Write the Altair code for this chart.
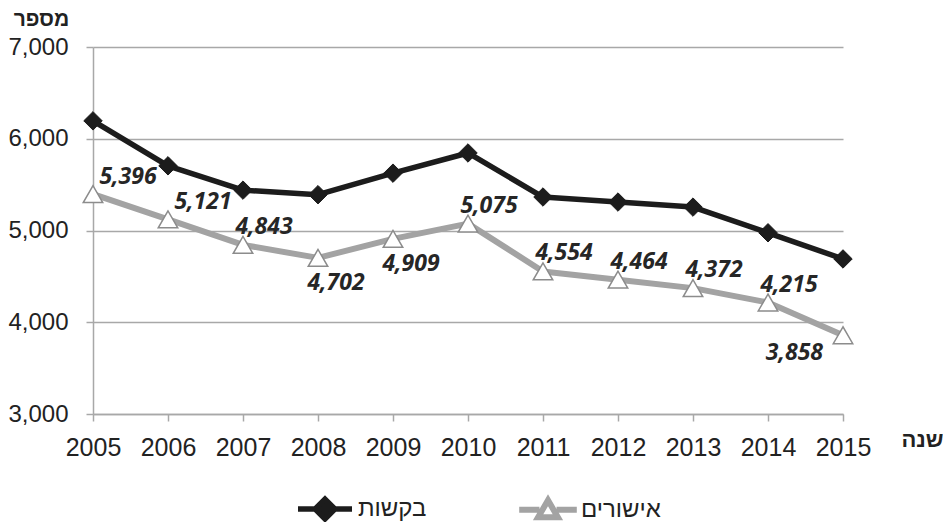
import altair as alt
import pandas as pd

years = list(range(2005, 2016))
requests = [6195, 5705, 5440, 5390, 5625, 5845, 5365, 5310, 5255, 4975, 4690]
approvals = [5396, 5121, 4843, 4702, 4909, 5075, 4554, 4464, 4372, 4215, 3858]
label_place = ["above-right", "above-right", "above", "below", "below", "above",
               "above", "above", "above", "above", "left-below"]

S_REQ = "בקשות"
S_APP = "אישורים"

rows = []
for y, v in zip(years, requests):
    rows.append({"year": y, "value": v, "series": S_REQ, "place": ""})
for y, v, p in zip(years, approvals, label_place):
    rows.append({"year": y, "value": v, "series": S_APP, "place": p})
df = pd.DataFrame(rows)

BLACK = "#1c1c1c"
GRAY = "#a3a3a3"
AXGRAY = "#a8a8a8"
FONT = "Liberation Sans"

x = alt.X("year:Q", scale=alt.Scale(domain=[2005, 2015], nice=False, zero=False),
          axis=alt.Axis(values=years, format="d", grid=False, labelFont=FONT,
                        labelFontSize=25, labelColor="#222", labelPadding=14,
                        labelOverlap=False, labelFlush=False,
                        tickSize=7, tickColor=AXGRAY, tickWidth=1.5,
                        domainColor=AXGRAY, domainWidth=1.5,
                        title="שנה", titleFont=FONT, titleFontSize=22,
                        titleFontWeight="bold", titleColor="#222",
                        titleX=829, titleY=25, titleAlign="center",
                        titleBaseline="middle"))
y = alt.Y("value:Q", scale=alt.Scale(domain=[3000, 7000], nice=False, zero=False),
          axis=alt.Axis(values=[3000, 4000, 5000, 6000, 7000], format=",.0f",
                        labelFont=FONT, labelFontSize=24, labelColor="#222",
                        labelPadding=18, labelOverlap=False, labelFlush=False,
                        tickSize=7, tickColor=AXGRAY, tickWidth=1.5,
                        domainColor=AXGRAY, domainWidth=1.5,
                        gridColor=AXGRAY, gridWidth=1.5,
                        title="מספר", titleFont=FONT, titleFontSize=21,
                        titleFontWeight="bold", titleColor="#222", titleAngle=0,
                        titleX=-52, titleY=-28, titleAlign="center",
                        titleBaseline="middle"))

req_path = "M-3,0H3M0,-1.1L1.1,0L0,1.1L-1.1,0Z"
app_path = "M-3.2,0H-0.95M0.95,0H3.2M-1.1,0.85L0,-1.05L1.1,0.85Z"

legend = alt.Legend(
    orient="none", direction="horizontal", legendX=220, legendY=450,
    title=None, labelFont=FONT, labelFontSize=24, labelColor="#222",
    symbolSize=324, labelOffset=21, columnPadding=80, padding=0,
    labelLimit=250,
    symbolType=alt.ExprRef(expr=f"datum.index === 0 ? '{req_path}' : '{app_path}'"),
    symbolFillColor=alt.ExprRef(expr=f"datum.index === 0 ? '{BLACK}' : 'white'"),
    symbolStrokeColor=alt.ExprRef(expr=f"datum.index === 0 ? '{BLACK}' : '{GRAY}'"),
    symbolStrokeWidth=4, symbolOpacity=1,
)

color = alt.Color("series:N",
                  scale=alt.Scale(domain=[S_REQ, S_APP], range=[BLACK, GRAY]),
                  legend=legend)

base = alt.Chart(df)

lines = base.mark_line(strokeJoin="round").encode(
    x=x, y=y, color=color,
    strokeWidth=alt.StrokeWidth("series:N",
                                scale=alt.Scale(domain=[S_REQ, S_APP], range=[5.5, 6]),
                                legend=None),
    order=alt.Order("year:Q"),
)

diamonds = base.transform_filter(alt.datum.series == S_REQ).mark_point(
    shape="diamond", filled=True, size=340, color=BLACK, opacity=1,
    stroke=BLACK, strokeWidth=1
).encode(x="year:Q", y="value:Q")

triangles = base.transform_filter(alt.datum.series == S_APP).mark_point(
    shape="triangle-up", filled=True, size=380, fill="white", opacity=1,
    stroke="#8c8c8c", strokeWidth=1.5
).encode(x="year:Q", y="value:Q")

def labels(place, align, dx, dy):
    return base.transform_filter(alt.datum.place == place).mark_text(
        font="Open Sans", fontSize=23, fontWeight="bold", fontStyle="italic",
        color="#262626", align=align, baseline="middle", dx=dx, dy=dy
    ).encode(x="year:Q", y="value:Q", text=alt.Text("value:Q", format=","))

chart = alt.layer(
    lines, diamonds, triangles,
    labels("above-right", "center", 35, -17),
    labels("above", "center", 21, -18),
    labels("below", "center", 18, 25),
    labels("left-below", "right", -20, 18),
).properties(
    width=750, height=367,
    autosize=alt.AutoSizeParams(type="none"),
    padding={"left": 85, "top": 39, "right": 100, "bottom": 108},
).configure_view(stroke=None)

chart.save("out.html", embed_options={"renderer": "svg", "actions": False})
